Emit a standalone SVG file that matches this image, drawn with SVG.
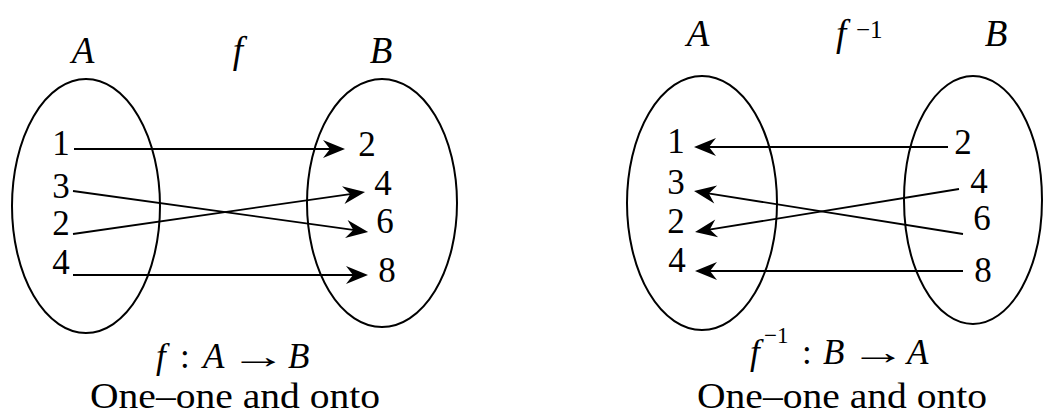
<svg xmlns="http://www.w3.org/2000/svg" width="1043" height="416" viewBox="0 0 1043 416">
<style>
.set{fill:none;stroke:#000;stroke-width:2}
.t{font-size:35px;fill:#000}
.lb{font-size:37px}
.i{font-style:italic}
.n{text-anchor:middle}
.sup{font-size:25px}
.cap{font-size:35px}
.csup{font-size:23px}
.c{fill:none;stroke:#000;stroke-width:1.8}
</style>
<defs>
<marker id="ah" markerUnits="userSpaceOnUse" viewBox="-24 -11 26 22" refX="-8" refY="0" markerWidth="26" markerHeight="22" orient="auto">
<path d="M0,0 L-22,-9 L-15,0 L-22,9 Z" fill="#000"/>
</marker>
</defs>
<rect width="1043" height="416" fill="#fff"/>
<g font-family="'Liberation Serif', 'Times New Roman', Times, serif">
<!-- Left figure -->
<g id="left-set-A">
<ellipse class="set" cx="86" cy="206" rx="74" ry="127"/>
<text class="t lb i n" x="83" y="63">A</text>
<text class="t n" x="61" y="155">1</text>
<text class="t n" x="61" y="198">3</text>
<text class="t n" x="61" y="235">2</text>
<text class="t n" x="61" y="274">4</text>
</g>
<g id="left-set-B">
<ellipse class="set" cx="382" cy="203" rx="75" ry="124"/>
<text class="t lb i n" x="381" y="63">B</text>
<text class="t n" x="367" y="156">2</text>
<text class="t n" x="383" y="195">4</text>
<text class="t n" x="385" y="233">6</text>
<text class="t n" x="387" y="282">8</text>
</g>
<g id="left-label-f">
<text class="t lb i n" x="238" y="63">f</text>
</g>
<g id="left-caption">
<text class="t cap" y="368"><tspan class="i" x="156">f</tspan><tspan x="180">:</tspan><tspan class="i" x="203">A</tspan></text>
<text class="t cap" transform="translate(230 368) scale(1.62 1)">→</text>
<text class="t cap i" x="288" y="368">B</text>
<text class="t cap" x="90" y="408" textLength="290" lengthAdjust="spacingAndGlyphs">One–one and onto</text>
</g>

<!-- Right figure -->
<g id="right-set-A">
<ellipse class="set" cx="702" cy="203" rx="75" ry="127"/>
<text class="t lb i n" x="698" y="46">A</text>
<text class="t n" x="676" y="153">1</text>
<text class="t n" x="676" y="194">3</text>
<text class="t n" x="676" y="233">2</text>
<text class="t n" x="677" y="272">4</text>
</g>
<g id="right-set-B">
<ellipse class="set" cx="973" cy="200" rx="69" ry="124"/>
<text class="t lb i n" x="996" y="46">B</text>
<text class="t n" x="963" y="154">2</text>
<text class="t n" x="979" y="193">4</text>
<text class="t n" x="982" y="230">6</text>
<text class="t n" x="983" y="282">8</text>
</g>
<g id="right-label-finv">
<text class="t lb i" x="836" y="46">f</text>
<text class="t sup" x="856" y="38">−1</text>
</g>
<g id="right-caption">
<text class="t cap" y="364"><tspan class="i" x="750">f</tspan><tspan class="csup" x="764" y="343">−1</tspan><tspan x="802" y="364">:</tspan><tspan class="i" x="823">B</tspan></text>
<text class="t cap" transform="translate(850 364) scale(1.6 1)">→</text>
<text class="t cap i" x="907" y="364">A</text>
<text class="t cap" x="697" y="408" textLength="290" lengthAdjust="spacingAndGlyphs">One–one and onto</text>
</g>
</g>
<g id="connectors">
<line class="c" x1="74" y1="149" x2="337" y2="149" marker-end="url(#ah)"/>
<line class="c" x1="73" y1="191" x2="360.2" y2="230.9" marker-end="url(#ah)"/>
<line class="c" x1="73" y1="234" x2="357.1" y2="193.1" marker-end="url(#ah)"/>
<line class="c" x1="73" y1="275" x2="360" y2="275" marker-end="url(#ah)"/>
<line class="c" x1="948" y1="147" x2="702" y2="147" marker-end="url(#ah)"/>
<line class="c" x1="963" y1="234" x2="701.9" y2="192.3" marker-end="url(#ah)"/>
<line class="c" x1="959" y1="189" x2="702.9" y2="230.7" marker-end="url(#ah)"/>
<line class="c" x1="963" y1="271" x2="703" y2="271" marker-end="url(#ah)"/>
</g>
</svg>
